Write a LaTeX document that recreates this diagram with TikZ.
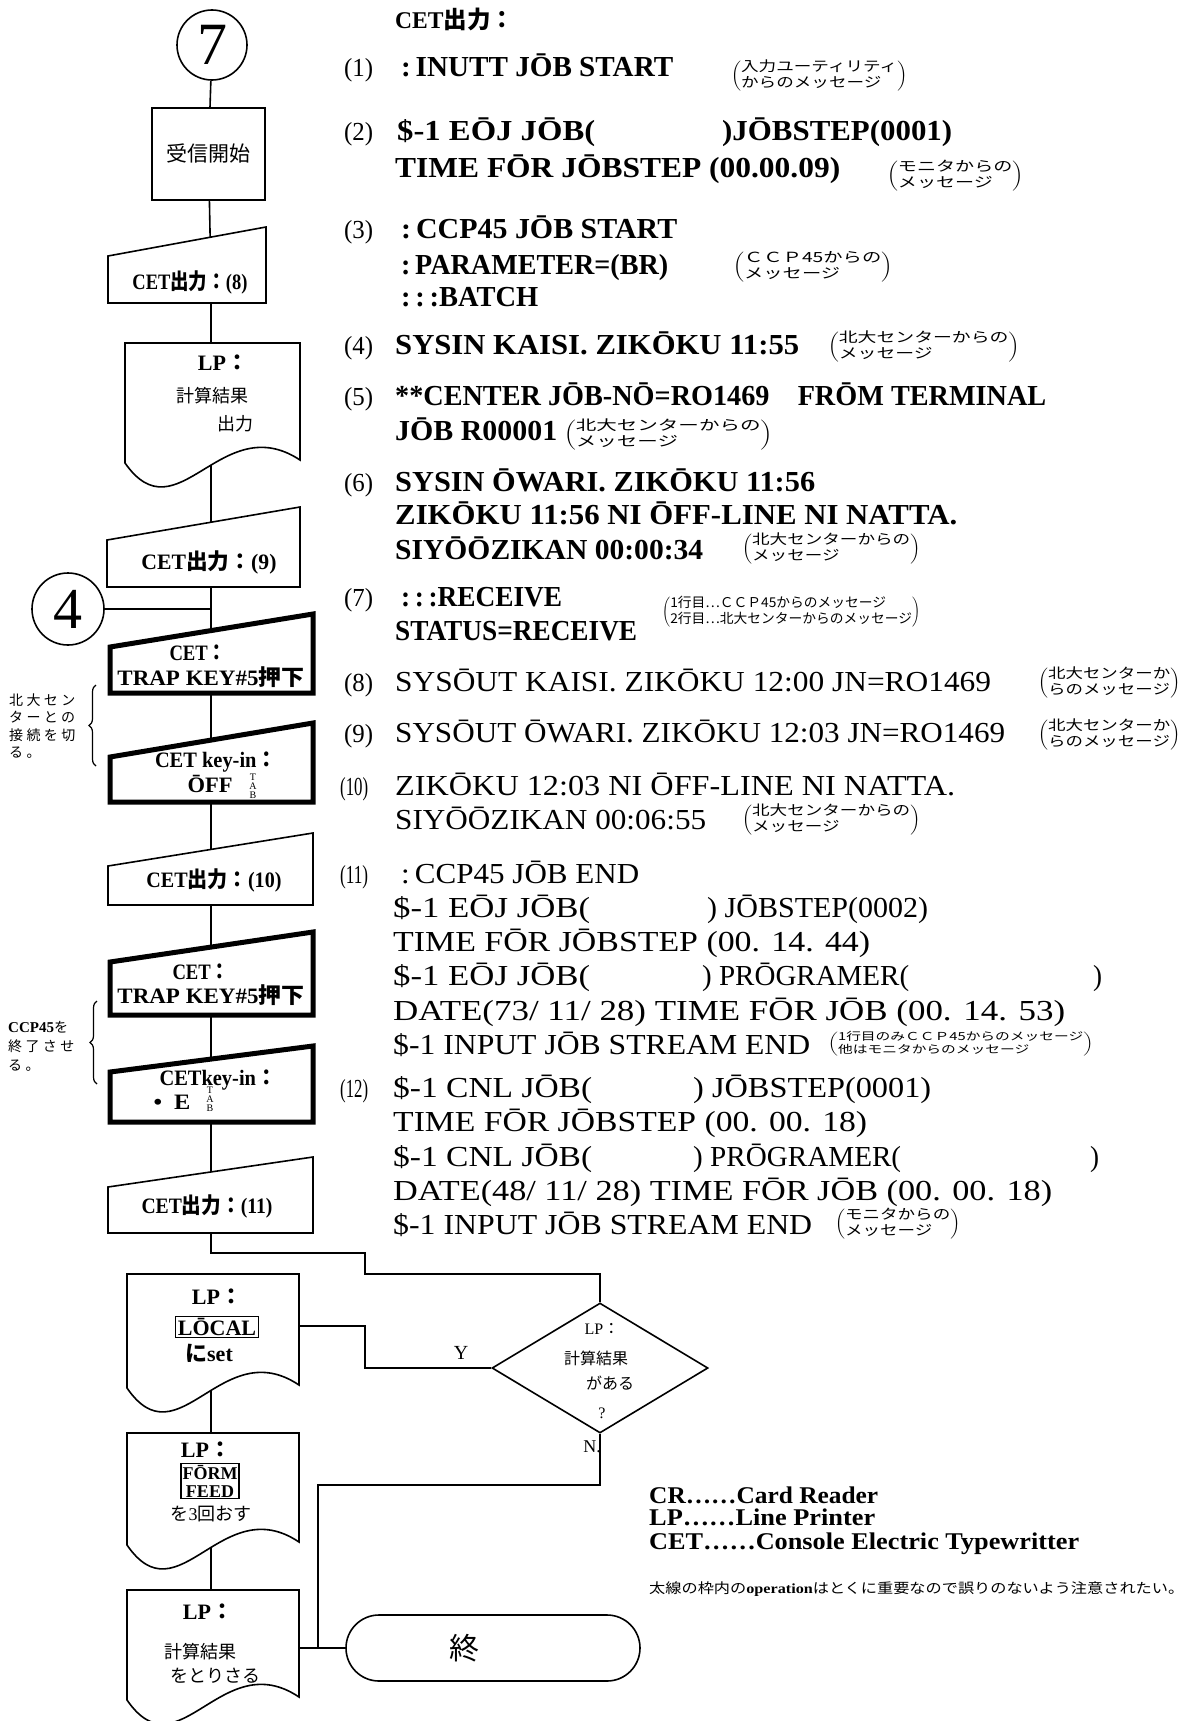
\documentclass[tikz,border=0pt]{standalone}
\usepackage{fontspec}
\usepackage{graphicx}
\setmainfont{Liberation Serif}
\newfontfamily\jpf{Noto Sans CJK JP}
\newfontfamily\jpl[LetterSpace=24]{Noto Sans CJK JP}
\usetikzlibrary{shapes.geometric,shapes.misc,decorations.pathreplacing}
\pgfdeclarelayer{bg}\pgfsetlayers{bg,main}
\newcommand\J[1]{{\jpf #1}}
\newcommand\tline[5]{\node[tl,anchor=base west] (#1) at (#2,{#3+10}) {\resizebox{#4pt}{\height}{#5}};}
\newcommand\rline[5]{\node[tr,anchor=base west] (#1) at (#2,{#3+10}) {\resizebox{#4pt}{\height}{#5}};}
\newcommand\inum[5]{\node[numf,anchor=base west] (#1) at (#2,{#3+10}) {\resizebox{#4pt}{\height}{#5}};}
\newcommand\anno[7]{\node[inner sep=0,anchor=west] (#1) at (#2,#3) {\resizebox{#4pt}{\height}{$\left(\vcenter{\hbox{\fontsize{#5}{#6}\selectfont\jpf\begin{tabular}{@{}l@{}}#7\end{tabular}}}\right)$}};}
\newcommand\ftx[5]{\node[fl] (#1) at (#2,#3) {\resizebox{#4pt}{\height}{#5}};}
\newcommand\manin[6]{\draw[#6] (#1,#3) -- (#2,#4) -- (#2,#5) -- (#1,#5) -- cycle;}
\newcommand\docsh[5]{\draw[#5] (#1,#3) -- (#2,#3) -- (#2,{#4-3}) .. controls ({#1+0.55*(#2-#1)},{#4-55}) and ({#1+0.3*(#2-#1)},{#4+75}) .. (#1,#4) -- cycle;}
\tikzset{
  tl/.style={inner sep=0pt,font=\fontsize{29}{33}\selectfont\bfseries},
  tr/.style={inner sep=0pt,font=\fontsize{29}{33}\selectfont},
  numf/.style={inner sep=0pt,font=\fontsize{26}{30}\selectfont},
  fl/.style={inner sep=0pt,font=\fontsize{22}{26}\selectfont\bfseries},
  jp/.style={inner sep=0pt,font=\jpf\fontsize{18}{21}\selectfont},
  shp/.style={draw,line width=1.6pt,fill=white},
  thk/.style={draw,line width=5pt,fill=white},
  conn/.style={line width=1.6pt},
  lgf/.style={inner sep=0pt,font=\fontsize{24}{26}\selectfont\bfseries},
  tabf/.style={inner sep=0,align=center,font=\fontsize{10}{9}\selectfont},
}
\begin{document}
\begin{tikzpicture}[x=1pt,y=-1pt]
\useasboundingbox (0,0) rectangle (1188,1721);
\clip (0,0) rectangle (1188,1721);
\begin{pgfonlayer}{bg}\fill[white] (0,0) rectangle (1188,1721);\end{pgfonlayer}

% ---------- flowchart nodes ----------
\node[circle,draw,line width=1.6pt,minimum size=70pt,inner sep=0,font=\fontsize{60}{62}\selectfont] (c7) at (212,45) {7};
\node[shp,minimum width=113pt,minimum height=92pt,inner sep=0,font=\jpf\fontsize{21}{24}\selectfont] (rs) at (208.5,154) {受信開始};
\node[circle,draw,line width=1.6pt,minimum size=72pt,inner sep=0,fill=white,font=\fontsize{58}{60}\selectfont] (c4) at (68,609) {4};

\coordinate (p8) at (211,282);
\coordinate (plp) at (211,400);
\coordinate (p9) at (211,555);
\coordinate (j4) at (211,609);
\coordinate (pt1) at (211,665);
\coordinate (poff) at (211,775);
\coordinate (p10) at (211,880);
\coordinate (pt2) at (211,985);
\coordinate (pe) at (211,1095);
\coordinate (p11) at (211,1205);
\coordinate (k1) at (211,1253);
\coordinate (k2) at (365,1253);
\coordinate (k3) at (365,1274);
\coordinate (k4) at (600,1274);
\coordinate (y1) at (365,1368);
\coordinate (y2) at (365,1326);
\coordinate (lr) at (299,1326);
\coordinate (plc) at (211,1330);
\coordinate (pff) at (211,1490);
\coordinate (pls) at (211,1650);
\coordinate (n1) at (600,1485);
\coordinate (n2) at (318,1485);
\coordinate (n3) at (318,1648);
\coordinate (lsr) at (299,1648);

% shapes
\manin{108}{266}{256}{227}{303}{shp}
\docsh{125}{300}{343}{463}{shp}
\manin{107}{300}{540}{507}{587}{shp}
\manin{110}{313}{647}{614}{693}{thk}
\manin{110}{313}{757}{723}{802}{thk}
\manin{108}{313}{866}{833}{905}{shp}
\manin{110}{313}{962}{932}{1015}{thk}
\manin{110}{313}{1072}{1046}{1122}{thk}
\manin{108}{313}{1187}{1157}{1233}{shp}
\docsh{127}{299}{1274}{1388}{shp}
\docsh{127}{299}{1433}{1545}{shp}
\docsh{127}{299}{1590}{1700}{shp}
\node[diamond,shp,minimum width=216pt,minimum height=130pt,inner sep=0] (dm) at (600,1368) {};
\node[rounded rectangle,shp,minimum width=294pt,minimum height=66pt,inner sep=0] (endn) at (493,1648) {};

% connectors
\begin{pgfonlayer}{bg}
\draw[conn] (c7) -- (rs);
\draw[conn] (rs) -- (p8) -- (plp) -- (p9) -- (pt1) -- (poff) -- (p10) -- (pt2) -- (pe) -- (p11) -- (k1) -- (k2) -- (k3) -- (k4) -- (dm);
\draw[conn] (c4) -- (j4);
\draw[conn] (dm.west) -- (y1) -- (y2) -- (lr);
\draw[conn] (plc) -- (pff) -- (pls);
\draw[conn] (dm.south) -- (n1) -- (n2) -- (n3);
\draw[conn] (lsr) -- (endn);
\end{pgfonlayer}

% flowchart texts
\ftx{f8}{190}{282}{115}{CET\J{出力：}(8)}
\node[fl] (lp1a) at (223,363) {LP\J{：}};
\node[jp] (lp1b) at (212,396) {計算結果};
\node[jp] (lp1c) at (235,424) {出力};
\ftx{f9}{209}{562}{135}{CET\J{出力：}(9)}
\ftx{tr1a}{198}{653}{57}{CET\J{：}}
\ftx{tr1b}{211}{677}{187}{TRAP KEY\#5\J{押下}}
\ftx{off1}{216}{762}{122}{CET key-in\J{：}}
\ftx{off2}{210}{784}{45}{ŌFF}
\node[tabf] (tab1) at (253,786) {T\\A\\B};
\ftx{f10}{214}{880}{135}{CET\J{出力：}(10)}
\ftx{tr2a}{201}{972}{57}{CET\J{：}}
\ftx{tr2b}{211}{995}{187}{TRAP KEY\#5\J{押下}}
\ftx{e1}{218}{1080}{117}{CETkey-in\J{：}}
\ftx{e2}{172}{1102}{37}{• \ E}
\node[tabf] (tab2) at (210,1099) {T\\A\\B};
\ftx{f11}{207}{1206}{131}{CET\J{出力：}(11)}
\node[fl] (lc1) at (217,1297) {LP\J{：}};
\node[fl,draw,line width=1.2pt,inner sep=2pt] (lc2) at (217,1327) {LŌCAL};
\node[fl] (lc3) at (209,1353) {\J{に}set};
\node[fl] (ff1) at (206,1450) {LP\J{：}};
\node[draw,line width=1.2pt,inner sep=1.5pt,align=center,font=\fontsize{18}{18}\selectfont\bfseries] (ff2) at (210,1481) {FŌRM\\FEED};
\node[jp] (ff3) at (211,1514) {を\textrm{3}回おす};
\node[fl] (ls1) at (208,1612) {LP\J{：}};
\node[jp] (ls2) at (200,1652) {計算結果};
\node[jp] (ls3) at (215,1676) {をとりさる};
\node[fl,font=\fontsize{16}{18}\selectfont] (d1) at (602,1329) {LP\J{：}};
\node[jp,font=\jpf\fontsize{16}{18}\selectfont] (d2) at (596,1358) {計算結果};
\node[jp,font=\jpf\fontsize{16}{18}\selectfont] (d3) at (610,1383) {がある};
\node[fl,font=\fontsize{16}{18}\selectfont] (d4) at (602,1413) {?};
\node[fl,font=\fontsize{20}{22}\selectfont] (ylab) at (461,1353) {Y};
\node[fl,font=\fontsize{18}{20}\selectfont] (nlab) at (592,1447) {N.};
\node[inner sep=0,font=\jpf\fontsize{30}{32}\selectfont] (endt) at (464,1648) {終};

% left notes
\node[inner sep=0,anchor=west,align=left,font=\jpl\fontsize{14}{17.5}\selectfont] (nt1) at (9,726) {北大セン\\ターとの\\接続を切\\る。};
\draw[line width=1.2pt,decorate,decoration={brace,amplitude=7pt}] (96,766) -- (96,685);
\node[inner sep=0,anchor=west,align=left,font=\jpl\fontsize{14}{19}\selectfont] (nt2) at (8,1046) {{\rmfamily\bfseries\fontsize{15}{19}\selectfont CCP45}を\\終了させ\\る。};
\draw[line width=1.2pt,decorate,decoration={brace,amplitude=7pt}] (97,1084) -- (97,1001);

% ---------- right column ----------
\node[tl,anchor=base west,font=\fontsize{24}{28}\selectfont\bfseries] (hd) at (395,28) {\resizebox{119pt}{\height}{CET\J{出力：}}};
\inum{i1}{344}{66}{29}{(1)}
\tline{t1}{401}{66}{272}{:\,INUTT JŌB START}
\anno{a1}{731}{76}{176}{14}{16.5}{入力ユーティリティ\\からのメッセージ}
\inum{i2}{344}{130}{29}{(2)}
\tline{t2a}{397}{130}{198}{\$-1 EŌJ JŌB(}
\tline{t2b}{722}{130}{230}{)JŌBSTEP(0001)}
\tline{t2c}{395}{167}{445}{TIME FŌR JŌBSTEP (00.00.09)}
\anno{a2}{887}{176}{136}{14}{16.5}{モニタからの\\メッセージ}
\inum{i3}{344}{228}{29}{(3)}
\tline{t3a}{401}{228}{276}{:\,CCP45 JŌB START}
\tline{t3b}{401}{264}{267}{:\,PARAMETER=(BR)}
\tline{t3c}{401}{296}{137}{:\,:\,:BATCH}
\anno{a3}{733}{267}{159}{14}{16.5}{ＣＣＰ45からの\\メッセージ}
\inum{i4}{344}{344}{29}{(4)}
\tline{t4}{395}{344}{404}{SYSIN KAISI. ZIKŌKU 11:55}
\anno{a4}{828}{347}{191}{14}{16.5}{北大センターからの\\メッセージ}
\inum{i5}{344}{395}{29}{(5)}
\tline{t5a}{395}{395}{651}{**CENTER JŌB-NŌ=RO1469\quad FRŌM TERMINAL}
\tline{t5b}{395}{430}{162}{JŌB R00001}
\anno{a5}{564}{435}{208}{14}{16.5}{北大センターからの\\メッセージ}
\inum{i6}{344}{481}{29}{(6)}
\tline{t6a}{395}{481}{420}{SYSIN ŌWARI. ZIKŌKU 11:56}
\tline{t6b}{395}{514}{562}{ZIKŌKU 11:56 NI ŌFF-LINE NI NATTA.}
\tline{t6c}{395}{549}{308}{SIYŌŌZIKAN 00:00:34}
\anno{a6}{742}{549}{178}{14}{16.5}{北大センターからの\\メッセージ}
\inum{i7}{344}{596}{29}{(7)}
\tline{t7a}{401}{596}{161}{:\,:\,:RECEIVE}
\tline{t7b}{395}{630}{242}{STATUS=RECEIVE}
\anno{a7}{662}{612}{258}{13.5}{16}{1行目…ＣＣＰ45からのメッセージ\\2行目…北大センターからのメッセージ}
\inum{i8}{344}{681}{29}{(8)}
\rline{t8}{395}{681}{596}{SYSŌUT KAISI. ZIKŌKU 12:00 JN=RO1469}
\anno{a8}{1038}{683}{142}{14}{16.5}{北大センターか\\らのメッセージ}
\inum{i9}{344}{732}{29}{(9)}
\rline{t9}{395}{732}{610}{SYSŌUT ŌWARI. ZIKŌKU 12:03 JN=RO1469}
\anno{a9}{1038}{735}{142}{14}{16.5}{北大センターか\\らのメッセージ}
\inum{i10}{340}{785}{28}{(10)}
\rline{t10a}{395}{785}{560}{ZIKŌKU 12:03 NI ŌFF-LINE NI NATTA.}
\rline{t10b}{395}{819}{311}{SIYŌŌZIKAN 00:06:55}
\anno{a10}{742}{820}{178}{14}{16.5}{北大センターからの\\メッセージ}
\inum{i11}{340}{873}{28}{(11)}
\rline{t11a}{401}{873}{238}{:\,CCP45 JŌB END}
\rline{t11b}{393}{907}{197}{\$-1 EŌJ JŌB(}
\rline{t11b2}{707}{907}{221}{) JŌBSTEP(0002)}
\rline{t11c}{393}{941}{477}{TIME FŌR JŌBSTEP (00. 14. 44)}
\rline{t11d}{393}{975}{197}{\$-1 EŌJ JŌB(}
\rline{t11d2}{702}{975}{207}{) PRŌGRAMER(}
\rline{t11d3}{1093}{975}{9}{)}
\rline{t11e}{393}{1010}{672}{DATE(73/ 11/ 28) TIME FŌR JŌB (00. 14. 53)}
\rline{t11f}{393}{1044}{417}{\$-1 INPUT JŌB STREAM END}
\anno{a11}{828}{1044}{265}{11}{13}{1行目のみＣＣＰ45からのメッセージ\\他はモニタからのメッセージ}
\inum{i12}{340}{1087}{28}{(12)}
\rline{t12a}{393}{1087}{199}{\$-1 CNL JŌB(}
\rline{t12a2}{693}{1087}{238}{) JŌBSTEP(0001)}
\rline{t12b}{393}{1121}{474}{TIME FŌR JŌBSTEP (00. 00. 18)}
\rline{t12c}{393}{1156}{199}{\$-1 CNL JŌB(}
\rline{t12c2}{693}{1156}{208}{) PRŌGRAMER(}
\rline{t12c3}{1090}{1156}{9}{)}
\rline{t12d}{393}{1190}{659}{DATE(48/ 11/ 28) TIME FŌR JŌB (00. 00. 18)}
\rline{t12e}{393}{1224}{419}{\$-1 INPUT JŌB STREAM END}
\anno{a12}{835}{1224}{125}{14}{16.5}{モニタからの\\メッセージ}

% legend
\node[lgf,anchor=base west] (lg1) at (649,1503) {\resizebox{229pt}{\height}{CR……Card Reader}};
\node[lgf,anchor=base west] (lg2) at (649,1525) {\resizebox{226pt}{\height}{LP……Line Printer}};
\node[lgf,anchor=base west] (lg3) at (649,1549) {\resizebox{430pt}{\height}{CET……Console Electric Typewritter}};
\node[inner sep=0,anchor=west,font=\jpf\fontsize{14}{16}\selectfont] (note) at (649,1589) {\resizebox{535pt}{\height}{太線の枠内の{\rmfamily\bfseries operation}はとくに重要なので誤りのないよう注意されたい。}};
\end{tikzpicture}
\end{document}
